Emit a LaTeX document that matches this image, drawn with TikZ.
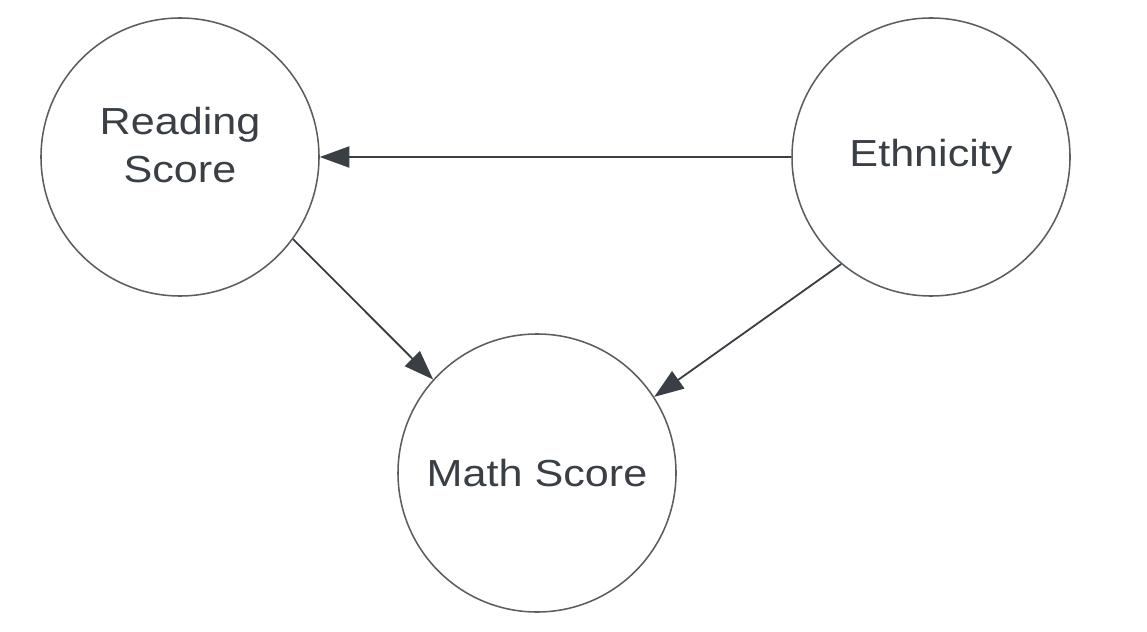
\documentclass[tikz,border=0pt]{standalone}
\usepackage{fontspec}
\setmainfont{Liberation Sans}[FakeStretch=1.145]
\usepackage{tikz}
\usetikzlibrary{positioning, arrows.meta, calc, shapes}

\definecolor{inkgray}{HTML}{3A3F45}
\definecolor{ringgray}{HTML}{5A5E63}

\begin{document}
\begin{tikzpicture}[-,>={Triangle[length=21pt,width=15pt]},shorten >=0pt,auto,
     var/.style={draw=ringgray, line width=1.1pt, circle, minimum size=6.95cm,
       align=center, text=inkgray, font=\fontsize{26.8}{34}\selectfont},
     link/.style={->, draw=inkgray, line width=1.3pt}]

  \useasboundingbox (0,0) rectangle (28.675,-15.8);

  \node[var, text depth=0.6cm] (read) at (4.5,-3.925) {Reading\\Score};
  \node[var] (eth) at (23.275,-3.925) {Ethnicity};
  \node[var] (math) at (13.425,-11.825) {Math Score};

  \draw[link] (eth.west) -- (read.east);
  \draw[link] (read.-36.6) -- (math.138);
  \draw[link] (eth.230) -- (math.33);
 \end{tikzpicture}
\end{document}
